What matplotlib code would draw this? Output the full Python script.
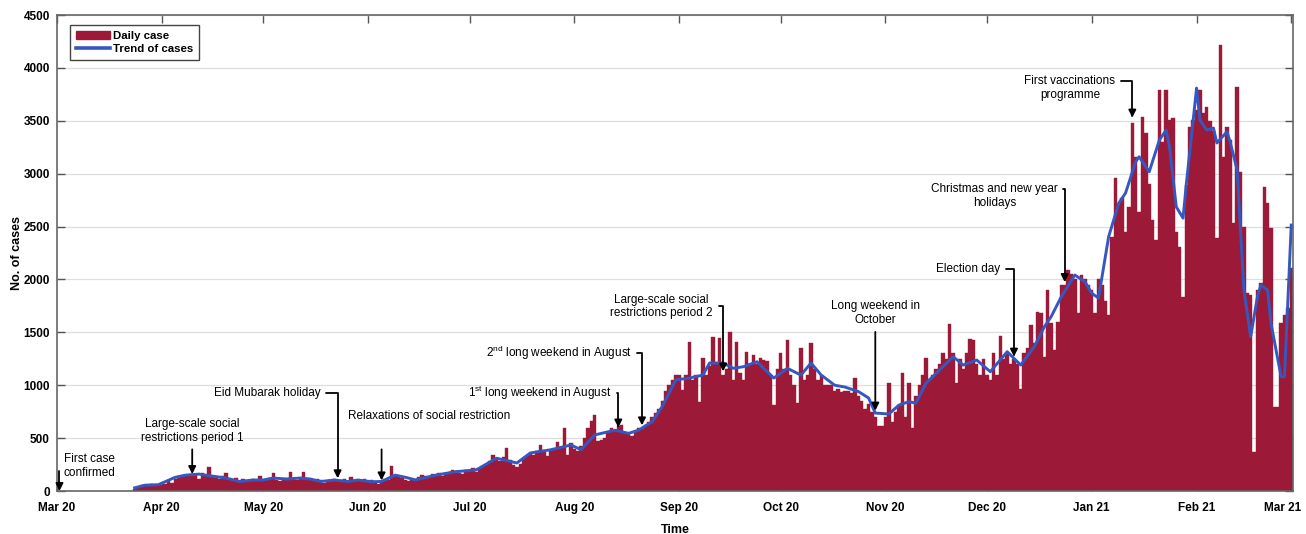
import matplotlib
matplotlib.use("Agg")
import matplotlib.pyplot as plt
import matplotlib.dates as mdates
import matplotlib.transforms as mtransforms
from matplotlib.patches import Patch
from matplotlib.lines import Line2D
import pandas as pd

plt.rcParams['font.family'] = ['Liberation Sans', 'DejaVu Sans']
plt.rcParams['mathtext.fontset'] = 'custom'
plt.rcParams['mathtext.rm'] = 'Liberation Sans'

# ---------------- data (daily confirmed cases) ----------------
mar20 = [20, 40, 60, 45, 50, 70, 60, 55]  # from 24 Mar 2020
apr20 = [60, 70, 90, 80, 110, 120, 130, 140, 150, 160,
         150, 110, 170, 140, 227, 130, 120, 110, 140, 173,
         100, 100, 120, 90, 110, 90, 100, 110, 90, 142]
may20 = [100, 110, 120, 173, 100, 90, 110, 120, 182, 110,
         100, 120, 180, 110, 100, 90, 110, 100, 80, 90,
         100, 110, 90, 100, 110, 90, 135, 100, 90, 100,
         110]
jun20 = [90, 100, 80, 70, 90, 110, 100, 236, 150, 130,
         120, 100, 90, 100, 110, 130, 150, 140, 130, 160,
         150, 170, 140, 160, 180, 200, 190, 170, 160, 200]
jul20 = [190, 220, 180, 210, 240, 260, 280, 340, 300, 280,
         320, 406, 290, 250, 230, 260, 300, 330, 360, 340,
         380, 435, 370, 330, 390, 400, 466, 420, 595, 340,
         450]
aug20 = [400, 380, 430, 500, 595, 660, 718, 470, 480, 500,
         560, 600, 580, 610, 620, 560, 540, 520, 560, 600,
         590, 620, 650, 700, 740, 780, 850, 950, 1000, 1050,
         1100]
sep20 = [1100, 955, 1100, 1411, 1050, 1100, 845, 1256, 1100, 1180,
         1458, 1200, 1445, 1100, 1150, 1506, 1050, 1411, 1120, 1050,
         1317, 1200, 1285, 1200, 1260, 1240, 1230, 1100, 813, 1150]
oct20 = [1300, 1150, 1427, 1100, 1000, 830, 1350, 1050, 1100, 1398,
         1150, 1050, 1100, 1000, 1000, 1000, 950, 960, 940, 950,
         950, 930, 1068, 900, 850, 780, 820, 750, 700, 614,
         614]
nov20 = [700, 1020, 650, 750, 800, 1118, 700, 1020, 595, 900,
         1000, 1100, 1257, 1050, 1100, 1150, 1200, 1300, 1250, 1578,
         1300, 1020, 1250, 1150, 1300, 1437, 1427, 1200, 1100, 1250]
dec20 = [1100, 1050, 1300, 1100, 1465, 1250, 1300, 1200, 1250, 1200,
         964, 1300, 1350, 1569, 1400, 1695, 1680, 1270, 1900, 1588,
         1333, 1600, 1947, 1950, 2089, 2050, 2000, 1680, 2042, 2000,
         1950]
jan21 = [1900, 1680, 2000, 1950, 1800, 1663, 2404, 2958, 2700, 2770,
         2450, 2687, 3478, 3160, 2640, 3538, 3384, 2900, 2561, 2372,
         3790, 3300, 3790, 3507, 3526, 2451, 2309, 1837, 2892, 3444,
         3507]
feb21 = [3600, 3790, 3573, 3633, 3500, 3400, 2391, 4215, 3160, 3444,
         3318, 2533, 3822, 3018, 2500, 1870, 1853, 372, 1900, 1966,
         2877, 2722, 2486, 797, 797, 1588, 1663, 1730]
mar21 = [2108]

month_starts = ['2020-03-24', '2020-04-01', '2020-05-01', '2020-06-01', '2020-07-01',
                '2020-08-01', '2020-09-01', '2020-10-01', '2020-11-01', '2020-12-01',
                '2021-01-01', '2021-02-01', '2021-03-01']
month_values = [mar20, apr20, may20, jun20, jul20, aug20, sep20, oct20, nov20,
                dec20, jan21, feb21, mar21]

# trend of cases (read at selected dates)
trend_dates = ['2020-03-24', '2020-03-27', '2020-03-31', '2020-04-02', '2020-04-05',
               '2020-04-08', '2020-04-12', '2020-04-15', '2020-04-18', '2020-04-21',
               '2020-04-24', '2020-04-28', '2020-05-01', '2020-05-04', '2020-05-08',
               '2020-05-12', '2020-05-15', '2020-05-18', '2020-05-22', '2020-05-26',
               '2020-05-29', '2020-06-02', '2020-06-05', '2020-06-09', '2020-06-12',
               '2020-06-15', '2020-06-21', '2020-06-27', '2020-07-03', '2020-07-09',
               '2020-07-15', '2020-07-19', '2020-07-25', '2020-07-31', '2020-08-03',
               '2020-08-07', '2020-08-13', '2020-08-17', '2020-08-20', '2020-08-24',
               '2020-08-27', '2020-08-31', '2020-09-04', '2020-09-08', '2020-09-10',
               '2020-09-14', '2020-09-17', '2020-09-20', '2020-09-24', '2020-09-29',
               '2020-10-03', '2020-10-07', '2020-10-10', '2020-10-13', '2020-10-17',
               '2020-10-20', '2020-10-24', '2020-10-27', '2020-10-29', '2020-11-02',
               '2020-11-05', '2020-11-08', '2020-11-10', '2020-11-13', '2020-11-17',
               '2020-11-21', '2020-11-24', '2020-11-28', '2020-12-02', '2020-12-07',
               '2020-12-11', '2020-12-15', '2020-12-18', '2020-12-20', '2020-12-23',
               '2020-12-27', '2020-12-30', '2021-01-01', '2021-01-03', '2021-01-06',
               '2021-01-09', '2021-01-11', '2021-01-14', '2021-01-15', '2021-01-18',
               '2021-01-21', '2021-01-23', '2021-01-24', '2021-01-26', '2021-01-28',
               '2021-01-29', '2021-01-31', '2021-02-01', '2021-02-02', '2021-02-04',
               '2021-02-06', '2021-02-07', '2021-02-10', '2021-02-11', '2021-02-13',
               '2021-02-15', '2021-02-17', '2021-02-19', '2021-02-20', '2021-02-22',
               '2021-02-23', '2021-02-26', '2021-02-27', '2021-03-01']
trend_values = [30, 55, 60, 88, 130,
                150, 160, 145, 132, 115,
                90, 104, 104, 123, 113,
                123, 113, 90, 104, 90,
                104, 88, 90, 150, 130,
                105, 150, 183, 200, 310,
                265, 360, 390, 435, 390,
                530, 575, 545, 575, 655,
                800, 1050, 1068, 1096, 1210,
                1210, 1160, 1175, 1222, 1068,
                1160, 1096, 1210, 1096, 1000,
                983, 940, 880, 737, 728,
                813, 845, 830, 1020, 1144,
                1270, 1191, 1238, 1128, 1317,
                1191, 1364, 1553, 1648, 1837,
                2042, 1978, 1870, 1824, 2404,
                2722, 2817, 3113, 3160, 3018,
                3318, 3412, 3255, 2687, 2580,
                2911, 3507, 3809, 3507, 3412,
                3431, 3290, 3397, 3290, 3034,
                1900, 1459, 1837, 1947, 1900,
                1588, 1080, 1080, 2514]

# annotations
ann_labels = ['First case\nconfirmed',
              'Large-scale social\nrestrictions period 1',
              'Eid Mubarak holiday',
              'Relaxations of social restriction',
              r'1$^{\mathrm{st}}$ long weekend in August',
              r'2$^{\mathrm{nd}}$ long weekend in August',
              'Large-scale social\nrestrictions period 2',
              'Long weekend in\nOctober',
              'Election day',
              'Christmas and new year\nholidays',
              'First vaccinations\nprogramme']
ann_target_dates = ['2020-03-01', '2020-04-10', '2020-05-23', '2020-06-05', '2020-08-14',
                    '2020-08-21', '2020-09-14', '2020-10-29', '2020-12-09', '2020-12-24',
                    '2021-01-13']
ann_target_values = [0, 160, 120, 100, 600, 620, 1130, 760, 1270, 1975, 3530]

# ---------------- figure ----------------
fig = plt.figure(figsize=(13.06, 5.34), dpi=100)
ax = fig.add_axes([0.0436, 0.0805, 0.9464, 0.8914])

bar_color = '#9c1a38'
line_color = '#3558c0'

for start, vals in zip(month_starts, month_values):
    dates = pd.date_range(start, periods=len(vals), freq='D')
    ax.bar(dates, vals, width=1.0, color=bar_color, edgecolor=bar_color,
           linewidth=0.3, zorder=2)

ax.plot(pd.to_datetime(trend_dates), trend_values, color=line_color, lw=2.1,
        zorder=3, solid_joinstyle='round')

ax.set_xlim(pd.Timestamp('2020-03-01'), pd.Timestamp('2021-03-01 12:00'))
ax.set_ylim(0, 4500)
ax.set_yticks(range(0, 4501, 500))
ax.yaxis.grid(True, color='#dedede', lw=0.9, zorder=0)
ax.set_axisbelow(True)

ax.xaxis.set_major_locator(mdates.MonthLocator())
ax.xaxis.set_major_formatter(mdates.DateFormatter('%b %y'))
ax.tick_params(axis='both', direction='in', top=True, right=True, length=6,
               width=1.0, color='#555555', labelsize=8.5)
ax.tick_params(axis='x', pad=8)
ax.tick_params(axis='y', pad=5)
for lab in ax.get_xticklabels() + ax.get_yticklabels():
    lab.set_fontweight('bold')
# keep the last month label inside the figure
last = ax.get_xticklabels()[-1]
last.set_horizontalalignment('right')
last.set_transform(last.get_transform() +
                   mtransforms.ScaledTranslation(0.10, 0, fig.dpi_scale_trans))
for s in ax.spines.values():
    s.set_color('#666666')
    s.set_linewidth(1.2)

ax.set_xlabel('Time', fontsize=9, fontweight='bold', labelpad=7)
ax.set_ylabel('No. of cases', fontsize=9, fontweight='bold', labelpad=0)

handles = [Patch(facecolor=bar_color, edgecolor=bar_color),
           Line2D([0], [0], color=line_color, lw=2.6)]
leg = ax.legend(handles, ['Daily case', 'Trend of cases'], loc='upper left',
                bbox_to_anchor=(0.006, 0.99), fancybox=False, framealpha=1,
                edgecolor='#444444', prop={'weight': 'bold', 'size': 8.2},
                handlelength=3.0, handletextpad=0.3, borderpad=0.5,
                labelspacing=0.25)
leg.get_frame().set_linewidth(1.0)

T = pd.to_datetime
arrow_kw = dict(arrowstyle='-|>', color='black', lw=1.3, mutation_scale=11,
                shrinkA=2, shrinkB=0)
fs = 8.5

def elbow(label, tdate, tval, xdate, xval, relpos=(1.0, 0.5), ha='right'):
    ax.annotate(label, xy=(T(tdate), tval), xytext=(T(xdate), xval),
                ha=ha, va='center', fontsize=fs, multialignment='center',
                arrowprops=dict(connectionstyle='angle,angleA=0,angleB=90,rad=0',
                                relpos=relpos, **arrow_kw))

def straight(label, tdate, tval, xdate, xval, start_val):
    ax.text(T(xdate), xval, label, ha='center', va='center', fontsize=fs,
            multialignment='center')
    ax.annotate('', xy=(T(tdate), tval), xytext=(T(tdate), start_val),
                arrowprops=dict(connectionstyle='arc3', **arrow_kw))

# First case confirmed
ax.text(T('2020-03-03'), 235, ann_labels[0], ha='left', va='center', fontsize=fs,
        multialignment='center')
ax.annotate('', xy=(T(ann_target_dates[0]) + pd.Timedelta(hours=18), 0),
            xytext=(T('2020-03-02 12:00'), 200),
            arrowprops=dict(connectionstyle='angle,angleA=0,angleB=90,rad=0', **arrow_kw))
# LSSR 1
straight(ann_labels[1], ann_target_dates[1], ann_target_values[1], '2020-04-10', 570, 420)
# Eid
elbow(ann_labels[2], ann_target_dates[2], ann_target_values[2], '2020-05-18', 925)
# Relaxation
ax.text(T('2020-05-26'), 705, ann_labels[3], ha='left', va='center', fontsize=fs)
ax.annotate('', xy=(T(ann_target_dates[3]), ann_target_values[3]),
            xytext=(T(ann_target_dates[3]), 420),
            arrowprops=dict(connectionstyle='arc3', **arrow_kw))
# long weekends August
elbow(ann_labels[4], ann_target_dates[4], ann_target_values[4], '2020-08-12', 930)
elbow(ann_labels[5], ann_target_dates[5], ann_target_values[5], '2020-08-18', 1305)
# LSSR 2
elbow(ann_labels[6], ann_target_dates[6], ann_target_values[6], '2020-09-11', 1745)
# Long weekend October
straight(ann_labels[7], ann_target_dates[7], ann_target_values[7], '2020-10-29', 1680, 1530)
# Election day
elbow(ann_labels[8], ann_target_dates[8], ann_target_values[8], '2020-12-05', 2100)
# Christmas
elbow(ann_labels[9], ann_target_dates[9], ann_target_values[9], '2020-12-22', 2790,
      relpos=(1.0, 0.78))
# Vaccination
elbow(ann_labels[10], ann_target_dates[10], ann_target_values[10], '2021-01-08', 3810,
      relpos=(1.0, 0.78))

fig.savefig('out.png', dpi=100)
